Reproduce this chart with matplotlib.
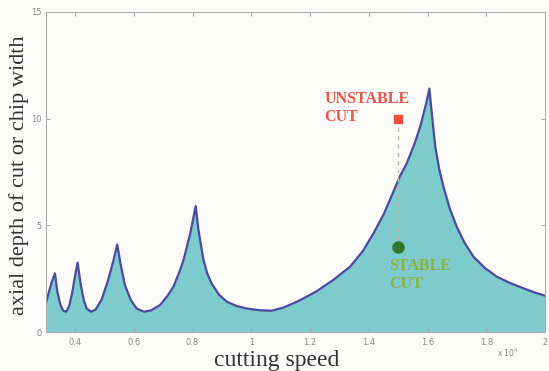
import matplotlib
matplotlib.use('Agg')
import matplotlib.pyplot as plt

# cutting speed (x 10^4) and stability limit (axial depth of cut)
speed = [0.30, 0.31, 0.32, 0.332, 0.34, 0.35, 0.36, 0.37, 0.38, 0.39,
         0.40, 0.409, 0.42, 0.43, 0.44, 0.455, 0.47, 0.49, 0.51, 0.53,
         0.544, 0.555, 0.57, 0.59, 0.61, 0.635, 0.66, 0.69, 0.715, 0.735,
         0.755, 0.77, 0.792, 0.811, 0.82, 0.837, 0.85, 0.865, 0.89, 0.917,
         0.95, 0.985, 1.03, 1.07, 1.11, 1.16, 1.22, 1.28, 1.336, 1.38,
         1.416, 1.45, 1.472, 1.506, 1.529, 1.555, 1.575, 1.595, 1.606, 1.616,
         1.626, 1.64, 1.654, 1.675, 1.699, 1.725, 1.756, 1.795, 1.836, 1.88,
         1.926, 1.965, 2.0]
depth = [1.3, 1.8, 2.3, 2.75, 1.9, 1.3, 1.0, 0.95, 1.2, 1.8,
         2.6, 3.25, 2.2, 1.5, 1.1, 0.95, 1.05, 1.5, 2.3, 3.3,
         4.1, 3.2, 2.2, 1.5, 1.1, 0.95, 1.02, 1.27, 1.7, 2.12,
         2.8, 3.4, 4.6, 5.9, 4.8, 3.4, 2.75, 2.28, 1.75, 1.42,
         1.22, 1.1, 1.02, 1.0, 1.15, 1.45, 1.89, 2.45, 3.06, 3.8,
         4.63, 5.5, 6.2, 7.3, 7.9, 8.8, 9.63, 10.7, 11.4, 10.0,
         8.69, 7.6, 6.81, 5.8, 4.94, 4.2, 3.53, 3.0, 2.59, 2.3,
         2.05, 1.85, 1.7]

unstable_pt = (1.5, 10.0)
stable_pt = (1.5, 4.0)

xticks = [0.4, 0.6, 0.8, 1.0, 1.2, 1.4, 1.6, 1.8, 2.0]
xticklabels = ['0.4', '0.6', '0.8', '1', '1.2', '1.4', '1.6', '1.8', '2']
yticks = [0, 5, 10, 15]

serif = ['Liberation Serif', 'DejaVu Serif']

fig = plt.figure(figsize=(5.49, 3.71), dpi=100, facecolor='#fbfbf9')
ax = fig.add_axes([0.083, 0.105, 0.910, 0.863])
ax.set_facecolor('#fbfbf9')

ax.fill_between(speed, depth, 0, color='#7dcbcc', linewidth=0)
ax.plot(speed, depth, color='#4a4a9e', linewidth=1.6)

# unstable -> stable marker pair
ax.plot([unstable_pt[0], stable_pt[0]], [unstable_pt[1], stable_pt[1]],
        color='#b8b8b8', linestyle='--', linewidth=1.0, dashes=(3, 3))
ax.plot(*unstable_pt, 's', color='#f0503c', markersize=6)
ax.plot(*stable_pt, 'o', color='#2f7a2a', markersize=8)

ax.text(1.25, 11.3, 'UNSTABLE\nCUT', color='#e8564a', family=serif,
        fontsize=11.5, fontweight='bold', va='top', ha='left', linespacing=1.15)
ax.text(1.468, 3.45, 'STABLE\nCUT', color='#8db03a', family=serif,
        fontsize=11.5, fontweight='bold', va='top', ha='left', linespacing=1.15)

ax.set_xlim(0.3, 2.0)
ax.set_ylim(0, 15)
ax.set_xticks(xticks)
ax.set_xticklabels(xticklabels)
ax.set_yticks(yticks)
ax.tick_params(direction='in', top=True, right=True, length=3, width=0.6,
               colors='#9a9a9a', labelsize=6, labelcolor='#8a8a8a', pad=4)
ax.tick_params(axis='y', pad=3)
for s in ax.spines.values():
    s.set_color('#a8a8a8')
    s.set_linewidth(0.7)

ax.set_xlabel('cutting speed', family=serif, fontsize=17, color='#333333')
ax.xaxis.set_label_coords(0.463, -0.055, transform=ax.transAxes)
ax.set_ylabel('axial depth of cut or chip width', family=serif, fontsize=16,
              color='#333333')
ax.yaxis.set_label_coords(-0.033, 0.49, transform=ax.transAxes)
fig.text(0.905, 0.038, r'x 10$^4$', fontsize=5.5, color='#8a8a8a')

fig.savefig('out.png', dpi=100, facecolor=fig.get_facecolor())
